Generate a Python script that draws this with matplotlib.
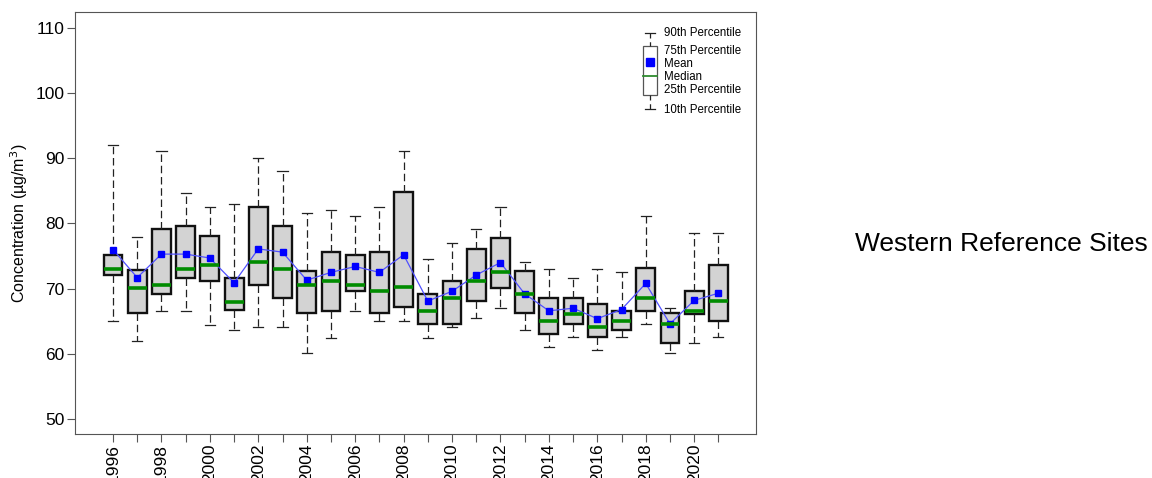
import numpy as np
import matplotlib.pyplot as plt
from matplotlib.patches import Rectangle

plt.rcParams['font.family'] = ['Liberation Sans', 'DejaVu Sans']

years = list(range(1996, 2022))
p90 = [92.1, 78.0, 91.1, 84.7, 82.5, 83.0, 90.1, 88.0, 81.6, 82.0, 81.1, 82.5, 91.1,
       74.6, 77.0, 79.1, 82.5, 74.1, 73.0, 71.6, 73.0, 72.6, 81.1, 67.1, 78.6, 78.6]
p75 = [75.1, 72.9, 79.1, 79.6, 78.1, 71.6, 82.6, 79.6, 72.7, 75.6, 75.1, 75.7, 84.8,
       69.2, 71.1, 76.1, 77.7, 72.7, 68.6, 68.6, 67.6, 66.6, 73.1, 66.2, 69.6, 73.6]
medians = [73.0, 70.1, 70.5, 73.0, 73.6, 68.0, 74.1, 73.0, 70.5, 71.1, 70.5, 69.6, 70.2,
           66.6, 68.6, 71.1, 72.6, 69.2, 65.1, 66.1, 64.1, 65.1, 68.6, 64.6, 66.6, 68.1]
p25 = [72.1, 66.2, 69.2, 71.6, 71.1, 66.7, 70.5, 68.6, 66.2, 66.6, 69.6, 66.2, 67.2,
       64.6, 64.6, 68.1, 70.1, 66.2, 63.1, 64.6, 62.6, 63.6, 66.6, 61.6, 66.1, 65.1]
p10 = [65.0, 62.0, 66.6, 66.6, 64.5, 63.6, 64.1, 64.1, 60.1, 62.5, 66.6, 65.0, 65.0,
       62.5, 64.1, 65.5, 67.1, 63.6, 61.1, 62.6, 60.6, 62.6, 64.6, 60.1, 61.6, 62.6]
means = [76.0, 71.7, 75.3, 75.3, 74.7, 70.9, 76.1, 75.6, 71.3, 72.5, 73.4, 72.5, 75.2,
         68.1, 69.6, 72.1, 74.0, 69.2, 66.6, 67.0, 65.4, 66.8, 70.8, 64.6, 68.2, 69.3]

fig = plt.figure(figsize=(11.52, 4.78), dpi=100)
ax = fig.add_axes([0.0651, 0.092, 0.5915, 0.883])

stats = []
for i in range(len(years)):
    stats.append({'whislo': p10[i], 'q1': p25[i], 'med': medians[i], 'q3': p75[i],
                  'whishi': p90[i], 'fliers': []})

ax.bxp(stats, positions=years, widths=0.78, patch_artist=True, showfliers=False,
       boxprops=dict(facecolor='#d3d3d3', edgecolor='#111111', linewidth=1.7),
       medianprops=dict(color='#008c00', linewidth=2.6),
       whiskerprops=dict(color='#222222', linestyle=(0, (6, 3)), linewidth=0.9),
       capprops=dict(color='#222222', linewidth=0.9),
       capwidths=0.42)

ax.plot(years, means, color='#5050ff', linewidth=0.9, marker='s', markersize=4.5,
        markerfacecolor='#0000ff', markeredgecolor='#0000ff')

ax.set_xlim(1994.43, 2022.57)
ax.set_ylim(47.7, 112.45)
ax.set_yticks([50, 60, 70, 80, 90, 100, 110])
ax.set_xticks(years)
ax.set_xticklabels([str(y) if y % 2 == 0 else '' for y in years], rotation=90, fontsize=12.5)
ax.tick_params(axis='y', labelsize=12.5, length=5.5, pad=2, color='#555555')
ax.tick_params(axis='x', length=5.5, pad=1.5, color='#555555')
ax.set_ylabel('Concentration (µg/m$^3$)', fontsize=11.5)
for s in ax.spines.values():
    s.set_color('#555555')

# legend key drawn in axes coordinates
def fx(px):
    return (px - 75.5) / 681.0

def fy(py):
    return 1 - (py - 12) / 422.0

t = ax.transAxes
cx = fx(650)
ax.plot([cx, cx], [fy(33), fy(46)], transform=t, color='#222222', lw=0.9, ls=(0, (4, 3)))
ax.plot([cx, cx], [fy(95), fy(109)], transform=t, color='#222222', lw=0.9, ls=(0, (4, 3)))
ax.plot([fx(645), fx(655)], [fy(33), fy(33)], transform=t, color='#222222', lw=0.9)
ax.plot([fx(645), fx(655)], [fy(109), fy(109)], transform=t, color='#222222', lw=0.9)
ax.add_patch(Rectangle((fx(643), fy(95)), fx(657) - fx(643), fy(46) - fy(95), transform=t,
                       facecolor='white', edgecolor='#555555', lw=0.9))
ax.plot([fx(643), fx(657)], [fy(75.7), fy(75.7)], transform=t, color='#2e8b2e', lw=1.3)
ax.plot([cx], [fy(62)], transform=t, marker='s', color='#0000ff', markersize=5.5)
lx = fx(664)
for py, lab in [(33, '90th Percentile'), (51, '75th Percentile'), (64, 'Mean'),
                (77.5, 'Median'), (90.5, '25th Percentile'), (110, '10th Percentile')]:
    ax.text(lx, fy(py), lab, transform=t, fontsize=8.3, va='center', ha='left')

fig.text(0.7425, 0.49, 'Western Reference Sites', fontsize=19, va='center', ha='left')

fig.savefig('out.png', dpi=100)
